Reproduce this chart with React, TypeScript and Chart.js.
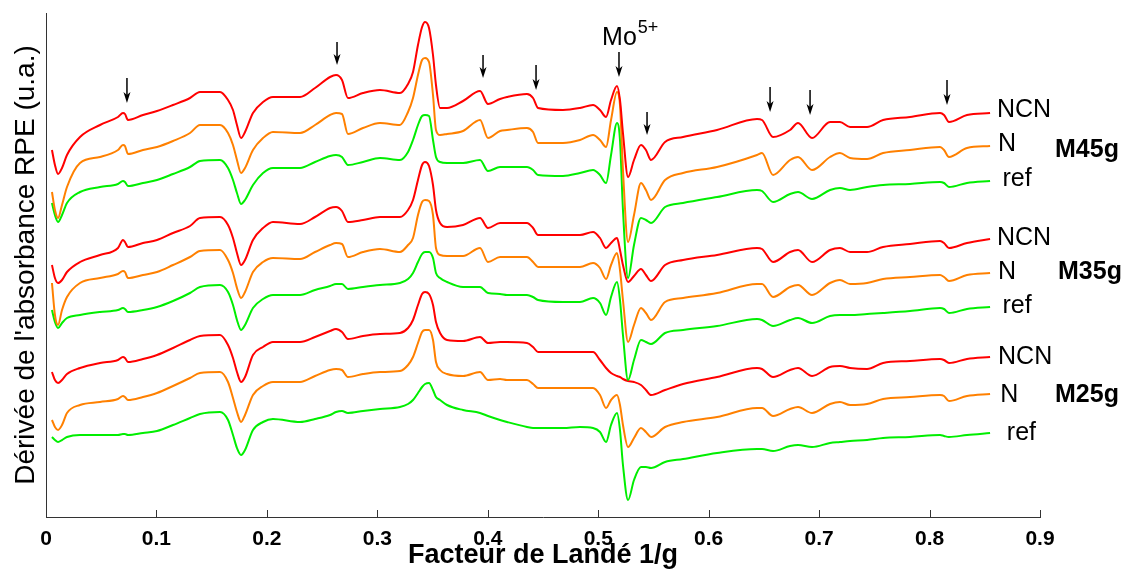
import React, { useEffect, useRef } from "react";
import { Chart, registerables } from "chart.js";

Chart.register(...registerables);

// Facteur de Landé 1/g (shared abscissa for all spectra)
const X = [
  0.0054, 0.0081, 0.0109, 0.0145, 0.019, 0.0308, 0.0489, 0.0652, 0.0697, 0.0715,
  0.0742, 0.0878, 0.1005, 0.115, 0.1304, 0.1394, 0.1576, 0.1648, 0.1693, 0.1729,
  0.1766, 0.1802, 0.1874, 0.1965, 0.2055, 0.23, 0.2436, 0.2572, 0.2626, 0.268,
  0.2734, 0.287, 0.3024, 0.3205, 0.3278, 0.3323, 0.3368, 0.3405, 0.3432, 0.3468,
  0.3504, 0.3531, 0.3568, 0.3631, 0.3776, 0.393, 0.4002, 0.4111, 0.4174, 0.4355,
  0.441, 0.4455, 0.4681, 0.4835, 0.4953, 0.5016, 0.5071, 0.5116, 0.517, 0.5197,
  0.5224, 0.527, 0.5324, 0.5387, 0.5432, 0.5478, 0.5605, 0.5768, 0.6076, 0.6438,
  0.6483, 0.6583, 0.6737, 0.6809, 0.6936, 0.7099, 0.7189, 0.728, 0.7434, 0.7579,
  0.7823, 0.8095, 0.8131, 0.8176, 0.8339, 0.8548,
];

// Offset EPR derivative spectra (arbitrary units)
const M45_NCN = [
  367, 352, 343, 349, 362, 380, 392, 400, 404, 403, 397, 402, 406, 412, 419, 425, 425, 417, 407, 392,
  379, 385, 404, 415, 420, 420, 429, 440, 442, 437, 419, 424, 427, 424, 433, 445, 472, 490, 495, 489,
  462, 432, 409, 409, 416, 426, 413, 418, 420, 423, 419, 409, 407, 409, 412, 407, 400, 417, 431, 417,
  384, 340, 357, 372, 367, 357, 375, 380, 387, 398, 397, 380, 387, 394, 379, 395, 395, 390, 390, 397,
  400, 404, 402, 395, 402, 404,
];
const M45_N = [
  325, 307, 299, 312, 330, 354, 360, 367, 372, 371, 363, 367, 370, 376, 384, 392, 392, 384, 372, 357,
  344, 349, 367, 379, 385, 384, 392, 402, 404, 403, 383, 389, 394, 392, 405, 419, 442, 457, 459, 455,
  422, 387, 382, 383, 386, 397, 379, 386, 387, 389, 385, 374, 374, 377, 382, 377, 370, 397, 425, 412,
  347, 275, 302, 334, 327, 317, 337, 344, 350, 362, 364, 342, 357, 360, 347, 360, 364, 359, 358, 364,
  367, 370, 367, 360, 369, 371,
];
const M45_REF = [
  314, 302, 295, 302, 314, 325, 330, 333, 336, 335, 331, 334, 337, 343, 350, 356, 357, 349, 337, 324,
  313, 317, 332, 344, 349, 349, 355, 361, 362, 360, 352, 355, 359, 357, 365, 377, 392, 401, 402, 401,
  377, 360, 355, 354, 354, 357, 346, 350, 350, 350, 347, 342, 341, 344, 347, 342, 334, 362, 394, 377,
  307, 239, 272, 299, 297, 294, 310, 314, 320, 327, 326, 315, 323, 325, 318, 327, 329, 327, 330, 332,
  333, 335, 334, 330, 334, 336,
];
const M35_NCN = [
  252, 239, 234, 237, 245, 255, 262, 269, 277, 275, 270, 274, 277, 284, 291, 299, 300, 292, 279, 264,
  252, 257, 277, 289, 295, 293, 300, 309, 310, 306, 295, 297, 300, 300, 307, 317, 337, 352, 355, 351,
  332, 307, 294, 290, 292, 299, 289, 294, 294, 294, 289, 282, 282, 282, 285, 279, 269, 274, 279, 267,
  252, 235, 241, 248, 242, 236, 252, 257, 262, 269, 268, 255, 265, 267, 255, 267, 269, 265, 265, 270,
  273, 276, 274, 269, 274, 278,
];
const M35_N = [
  234, 202, 192, 207, 220, 234, 239, 243, 246, 245, 239, 242, 245, 252, 260, 266, 267, 257, 244, 229,
  219, 225, 245, 255, 259, 258, 265, 272, 274, 273, 260, 265, 268, 265, 272, 279, 302, 315, 317, 316,
  302, 269, 262, 261, 261, 269, 255, 260, 260, 260, 255, 250, 250, 250, 254, 249, 238, 252, 264, 247,
  217, 175, 192, 209, 204, 197, 215, 219, 224, 233, 233, 220, 230, 232, 222, 234, 237, 233, 234, 238,
  240, 242, 240, 236, 242, 244,
];
const M35_REF = [
  207, 195, 189, 194, 199, 202, 205, 207, 209, 208, 205, 207, 210, 216, 224, 230, 232, 225, 212, 197,
  187, 192, 209, 218, 222, 222, 227, 231, 233, 233, 228, 230, 232, 234, 238, 244, 255, 263, 265, 265,
  259, 244, 239, 235, 230, 230, 224, 223, 222, 222, 220, 217, 215, 215, 219, 214, 202, 220, 235, 217,
  182, 137, 157, 177, 175, 173, 184, 187, 191, 198, 197, 191, 197, 199, 194, 201, 202, 202, 203, 204,
  206, 209, 208, 204, 208, 210,
];
const M25_NCN = [
  145, 137, 134, 137, 143, 149, 154, 157, 160, 159, 155, 158, 162, 169, 177, 181, 182, 172, 159, 145,
  135, 140, 162, 170, 175, 175, 180, 186, 188, 185, 178, 181, 183, 184, 189, 197, 212, 223, 225, 223,
  212, 195, 184, 177, 176, 180, 174, 175, 175, 174, 170, 165, 165, 165, 165, 157, 149, 144, 141, 140,
  138, 136, 135, 132, 127, 122, 127, 133, 140, 149, 148, 140, 147, 149, 141, 150, 151, 149, 148, 154,
  156, 158, 157, 154, 158, 160,
];
const M25_N = [
  97, 90, 87, 92, 104, 112, 115, 118, 121, 120, 117, 120, 124, 131, 139, 144, 145, 135, 119, 105,
  95, 102, 122, 131, 135, 135, 141, 147, 148, 147, 140, 143, 145, 146, 152, 160, 174, 185, 187, 187,
  177, 155, 147, 143, 141, 145, 137, 138, 137, 137, 133, 129, 129, 129, 129, 122, 109, 117, 122, 112,
  92, 70, 79, 89, 85, 80, 90, 95, 100, 109, 109, 101, 108, 110, 104, 113, 115, 112, 113, 118,
  120, 122, 121, 116, 121, 123,
];
const M25_REF = [
  80, 77, 75, 77, 80, 82, 82, 82, 83, 83, 82, 84, 86, 92, 99, 103, 105, 97, 82, 69,
  62, 67, 87, 95, 98, 95, 98, 102, 105, 106, 104, 106, 108, 110, 113, 117, 124, 130, 133, 134,
  127, 120, 117, 112, 107, 104, 101, 97, 95, 90, 89, 89, 89, 90, 89, 85, 75, 92, 104, 87,
  52, 17, 37, 50, 50, 49, 55, 58, 64, 68, 68, 66, 71, 72, 70, 74, 75, 76, 77, 79,
  80, 82, 81, 80, 82, 84,
];

const X_TICKS = [0, 0.1, 0.2, 0.3, 0.4, 0.5, 0.6, 0.7, 0.8, 0.9];

// Arrows marking lines: [x, yTop, yBottom]
const ARROW_X = [0.0733, 0.2635, 0.3957, 0.4437, 0.5188, 0.5442, 0.6556, 0.6918, 0.8158];
const ARROW_TOP = [439, 475, 462, 452, 465, 405, 430, 427, 437];
const ARROW_BOTTOM = [414, 452, 439, 427, 440, 382, 405, 402, 412];

// Series labels at the right
const SERIES_LABELS = ["NCN", "N", "ref", "NCN", "N", "ref", "NCN", "N", "ref"];
const SERIES_LABEL_X = [0.861, 0.862, 0.866, 0.861, 0.862, 0.866, 0.862, 0.864, 0.870];
const SERIES_LABEL_Y = [407, 373, 338, 279, 245, 211, 160, 122, 84];
const GROUP_LABELS = ["M45g", "M35g", "M25g"];
const GROUP_LABEL_X = [0.9136, 0.9163, 0.9136];
const GROUP_LABEL_Y = [367, 245, 122];

const RED = "#ff0000";
const ORANGE = "#ff8000";
const GREEN = "#00ee00";

const FONT = "'Liberation Sans', Arial, Helvetica, sans-serif";

const annotations = {
  id: "annotations",
  afterDraw(chart: any) {
    const { ctx, scales } = chart;
    const xs = scales.x;
    const ys = scales.y;
    const bottom = chart.chartArea.bottom;
    ctx.save();
    // inward ticks
    ctx.strokeStyle = "#333";
    ctx.lineWidth = 1;
    X_TICKS.forEach((t) => {
      const px = Math.round(xs.getPixelForValue(t)) + 0.5;
      ctx.beginPath();
      ctx.moveTo(px, bottom);
      ctx.lineTo(px, bottom - 7);
      ctx.stroke();
    });
    // arrows
    ctx.strokeStyle = "#000";
    ctx.fillStyle = "#000";
    ctx.lineWidth = 1.5;
    ARROW_X.forEach((ax, i) => {
      const px = xs.getPixelForValue(ax);
      const y1 = ys.getPixelForValue(ARROW_TOP[i]);
      const y2 = ys.getPixelForValue(ARROW_BOTTOM[i]);
      ctx.beginPath();
      ctx.moveTo(px, y1);
      ctx.lineTo(px, y2 - 4);
      ctx.stroke();
      ctx.beginPath();
      ctx.moveTo(px, y2);
      ctx.lineTo(px - 3.5, y2 - 11);
      ctx.lineTo(px, y2 - 8);
      ctx.lineTo(px + 3.5, y2 - 11);
      ctx.closePath();
      ctx.fill();
    });
    // Mo5+ label
    ctx.fillStyle = "#000";
    ctx.textBaseline = "alphabetic";
    ctx.textAlign = "left";
    ctx.font = `25px ${FONT}`;
    const moX = xs.getPixelForValue(0.5035);
    const moY = ys.getPixelForValue(472);
    ctx.fillText("Mo", moX, moY);
    const w = ctx.measureText("Mo").width;
    ctx.font = `18px ${FONT}`;
    ctx.fillText("5+", moX + w + 1, moY - 12);
    // series labels
    ctx.textBaseline = "middle";
    ctx.font = `25px ${FONT}`;
    SERIES_LABELS.forEach((s, i) => {
      ctx.fillText(s, xs.getPixelForValue(SERIES_LABEL_X[i]), ys.getPixelForValue(SERIES_LABEL_Y[i]));
    });
    ctx.font = `bold 25px ${FONT}`;
    GROUP_LABELS.forEach((s, i) => {
      ctx.fillText(s, xs.getPixelForValue(GROUP_LABEL_X[i]), ys.getPixelForValue(GROUP_LABEL_Y[i]));
    });
    ctx.restore();
  },
};

const SERIES = [
  { name: "M45g NCN", data: M45_NCN, color: RED },
  { name: "M45g N", data: M45_N, color: ORANGE },
  { name: "M45g ref", data: M45_REF, color: GREEN },
  { name: "M35g NCN", data: M35_NCN, color: RED },
  { name: "M35g N", data: M35_N, color: ORANGE },
  { name: "M35g ref", data: M35_REF, color: GREEN },
  { name: "M25g NCN", data: M25_NCN, color: RED },
  { name: "M25g N", data: M25_N, color: ORANGE },
  { name: "M25g ref", data: M25_REF, color: GREEN },
];

export default function App() {
  const ref = useRef<HTMLCanvasElement | null>(null);
  useEffect(() => {
    if (!ref.current) return;
    const chart = new Chart(ref.current, {
      type: "line",
      data: {
        datasets: SERIES.map((s) => ({
          label: s.name,
          data: X.map((x, i) => ({ x, y: s.data[i] })),
          borderColor: s.color,
          backgroundColor: s.color,
          borderWidth: 2,
          pointRadius: 0,
          cubicInterpolationMode: "monotone" as const,
          fill: false,
        })),
      },
      plugins: [annotations],
      options: {
        responsive: false,
        animation: false,
        layout: { padding: { left: 0, right: 89, top: 13, bottom: 0 } },
        plugins: { legend: { display: false }, tooltip: { enabled: false } },
        scales: {
          x: {
            type: "linear",
            min: 0,
            max: 0.9,
            afterFit: (s: any) => {
              s.height = 55;
            },
            afterBuildTicks: (s: any) => {
              s.ticks = X_TICKS.map((v) => ({ value: v }));
            },
            ticks: {
              color: "#000",
              font: { family: FONT, size: 21, weight: "bold" },
              padding: 10,
              maxRotation: 0,
              autoSkip: false,
              callback: (v: any) => (Number(v) === 0 ? "0" : Number(v).toFixed(1)),
            },
            grid: { display: true, drawOnChartArea: false, drawTicks: false },
            border: { display: true, color: "#333", width: 1 },
            title: {
              display: true,
              text: "Facteur de Landé 1/g",
              color: "#000",
              font: { family: FONT, size: 27, weight: "bold" },
              padding: { top: 0, bottom: 0 },
            },
          },
          y: {
            type: "linear",
            min: 0,
            max: 504,
            afterFit: (s: any) => {
              s.width = 46;
            },
            ticks: { display: false },
            grid: { display: true, drawOnChartArea: false, drawTicks: false },
            border: { display: true, color: "#333", width: 1 },
            title: {
              display: true,
              text: "Dérivée de l'absorbance RPE (u.a.)",
              color: "#000",
              font: { family: FONT, size: 28, weight: "normal" },
              padding: { top: 9, bottom: 0 },
            },
          },
        },
      },
    });
    return () => chart.destroy();
  }, []);
  return (
    <div style={{ position: "fixed", left: 0, top: 0, width: 1129, height: 572, background: "#fff" }}>
      <canvas ref={ref} width={1129} height={572} style={{ display: "block" }} />
    </div>
  );
}
